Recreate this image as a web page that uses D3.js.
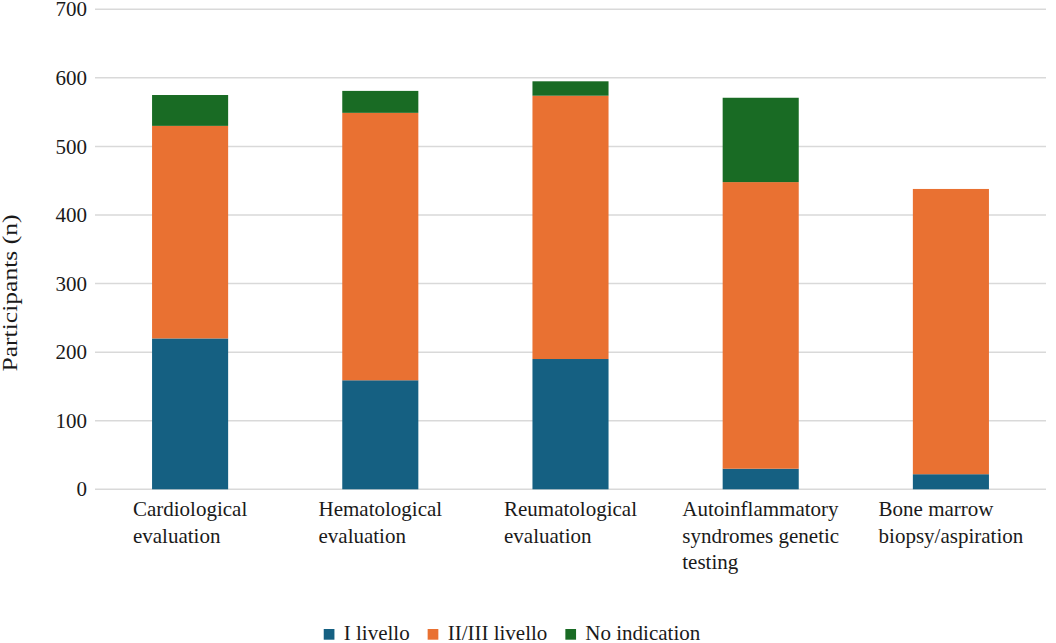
<!DOCTYPE html>
<html>
<head>
<meta charset="utf-8">
<script src="https://cdn.jsdelivr.net/npm/d3@7"></script>
<style>
  body { margin: 0; background: #fff; }
  svg { display: block; }
</style>
</head>
<body>
<script>
// values
const categories = [
  ['Cardiological', 'evaluation'],
  ['Hematological', 'evaluation'],
  ['Reumatological', 'evaluation'],
  ['Autoinflammatory', 'syndromes genetic', 'testing'],
  ['Bone marrow', 'biopsy/aspiration']
];
const seriesNames = ['I livello', 'II/III livello', 'No indication'];
const levelI = [220, 159, 190, 30, 22];
const levelII_III = [310, 390, 384, 418, 416];
const noIndication = [45, 32, 21, 123, 0];
const yTicks = [0, 100, 200, 300, 400, 500, 600, 700];

const width = 1056;
const height = 643;
const colors = ['#156082', '#E97132', '#196B24'];
const font = '"Liberation Serif", "Times New Roman", serif';

const svg = d3.select('body').append('svg')
    .attr('width', width)
    .attr('height', height)
    .style('font-family', font);

const rows = categories.map((c, i) => ({
    key: i,
    'I livello': levelI[i],
    'II/III livello': levelII_III[i],
    'No indication': noIndication[i]
}));

const stacked = d3.stack().keys(seriesNames)(rows);

const x = d3.scaleBand()
    .domain(d3.range(categories.length))
    .range([95, 1046])
    .paddingInner(0.6)
    .paddingOuter(0.3);

const y = d3.scaleLinear()
    .domain([0, 700])
    .range([489.3, 9.3]);

// gridlines
svg.append('g')
    .selectAll('line')
    .data(yTicks)
    .enter().append('line')
    .attr('x1', 95)
    .attr('x2', 1046)
    .attr('y1', d => y(d))
    .attr('y2', d => y(d))
    .attr('stroke', '#d9d9d9')
    .attr('stroke-width', 1.5);

// y tick labels
svg.append('g')
    .selectAll('text')
    .data(yTicks)
    .enter().append('text')
    .attr('x', 87)
    .attr('y', d => y(d))
    .attr('dy', '0.34em')
    .attr('text-anchor', 'end')
    .style('font-family', font)
    .style('font-size', '21px')
    .attr('fill', '#1a1a1a')
    .text(d => d);

// bars
svg.append('g')
    .selectAll('g')
    .data(stacked)
    .enter().append('g')
    .attr('fill', (d, i) => colors[i])
    .selectAll('rect')
    .data(d => d)
    .enter().append('rect')
    .attr('x', (d, i) => x(i))
    .attr('width', x.bandwidth())
    .attr('y', d => y(d[1]))
    .attr('height', d => y(d[0]) - y(d[1]));

// category labels, left aligned block centred under each bar
const catG = svg.append('g')
    .selectAll('text')
    .data(categories)
    .enter().append('text')
    .style('font-family', font)
    .style('font-size', '21px')
    .attr('fill', '#1a1a1a');

catG.each(function(lines, i) {
    const t = d3.select(this);
    lines.forEach((line, j) => {
        t.append('tspan')
            .attr('y', 516 + j * 26.7)
            .text(line);
    });
    let maxW = 0;
    t.selectAll('tspan').each(function() {
        maxW = Math.max(maxW, this.getComputedTextLength());
    });
    const cx = x(i) + x.bandwidth() / 2;
    t.selectAll('tspan').attr('x', cx - maxW / 2);
});

// y axis title (stretched along its length as in the original)
svg.append('text')
    .attr('transform', 'translate(17,293) rotate(-90)')
    .attr('x', -78.5)
    .attr('textLength', 157)
    .attr('lengthAdjust', 'spacingAndGlyphs')
    .style('font-family', font)
    .style('font-size', '20px')
    .attr('fill', '#1a1a1a')
    .text('Participants (n)');

// legend
const legend = svg.append('g');
let lx = 0;
seriesNames.forEach((name, i) => {
    const item = legend.append('g').attr('transform', `translate(${lx},0)`);
    item.append('rect')
        .attr('x', 0)
        .attr('y', 629)
        .attr('width', 10.7)
        .attr('height', 10.7)
        .attr('fill', colors[i]);
    const txt = item.append('text')
        .attr('x', 20)
        .attr('y', 639.5)
        .style('font-family', font)
        .style('font-size', '21px')
        .attr('fill', '#1a1a1a')
        .text(name);
    lx += 20 + txt.node().getComputedTextLength() + 18;
});
const legendW = lx - 18;
legend.attr('transform', `translate(${512 - legendW / 2},0)`);
</script>
</body>
</html>
